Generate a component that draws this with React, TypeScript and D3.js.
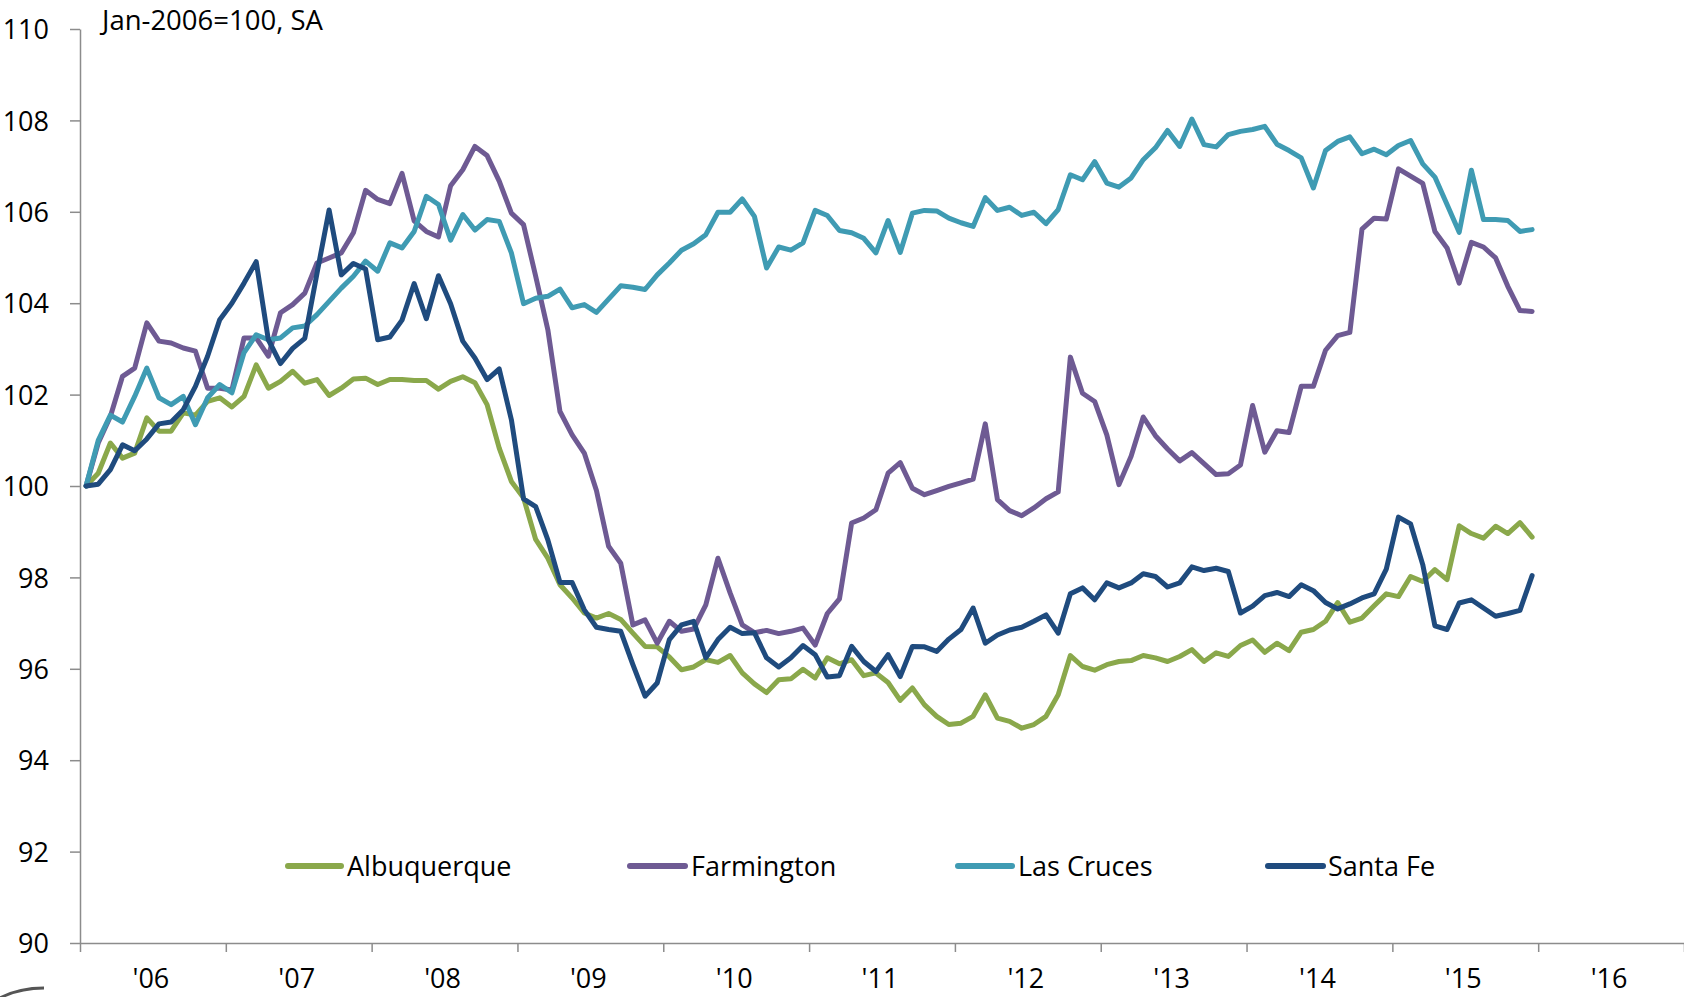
import React, { useRef, useEffect } from 'react';
import * as d3 from 'd3';

// monthly index, Jan-2006 = 100, seasonally adjusted (Jan 2006 .. Dec 2015)
const yearLabels = ["'06", "'07", "'08", "'09", "'10", "'11", "'12", "'13", "'14", "'15", "'16"];
const yTicks = [90, 92, 94, 96, 98, 100, 102, 104, 106, 108, 110];
const seriesNames = ['Albuquerque', 'Farmington', 'Las Cruces', 'Santa Fe'];

const albuquerque = [
  100.0, 100.28, 100.94, 100.61, 100.72, 101.49, 101.2, 101.2, 101.6, 101.55, 101.85, 101.93,
  101.73, 101.96, 102.65, 102.14, 102.29, 102.51, 102.25, 102.33, 101.98, 102.14, 102.34, 102.36,
  102.22, 102.33, 102.33, 102.31, 102.31, 102.12, 102.29, 102.39, 102.26, 101.78, 100.83, 100.1,
  99.74, 98.83, 98.42, 97.84, 97.55, 97.22, 97.11, 97.21, 97.08, 96.78, 96.49, 96.48,
  96.26, 95.98, 96.04, 96.2, 96.14, 96.29, 95.91, 95.67, 95.48, 95.76, 95.78, 95.99,
  95.8, 96.24, 96.11, 96.2, 95.85, 95.91, 95.7, 95.31, 95.58, 95.21, 94.96, 94.78,
  94.81, 94.96, 95.43, 94.92, 94.85, 94.7, 94.78, 94.96, 95.43, 96.29, 96.05, 95.97,
  96.09, 96.16, 96.18, 96.29, 96.24, 96.16, 96.27, 96.42, 96.16, 96.35, 96.27, 96.51,
  96.63, 96.36, 96.56, 96.4, 96.8, 96.86, 97.04, 97.45, 97.02, 97.11, 97.38, 97.64,
  97.58, 98.02, 97.91, 98.17, 97.95, 99.13, 98.96, 98.86, 99.12, 98.96, 99.2, 98.88
];

const farmington = [
  100.0, 100.94, 101.52, 102.4, 102.58, 103.57, 103.17, 103.13, 103.02, 102.95, 102.14, 102.14,
  102.1, 103.24, 103.24, 102.84, 103.79, 103.97, 104.22, 104.88, 104.99, 105.1, 105.54, 106.47,
  106.27, 106.18, 106.84, 105.8, 105.57, 105.45, 106.57, 106.92, 107.43, 107.23, 106.67, 105.97,
  105.72, 104.59, 103.42, 101.63, 101.12, 100.72, 99.9, 98.68, 98.31, 96.96, 97.07, 96.56,
  97.04, 96.82, 96.87, 97.4, 98.42, 97.66, 96.96, 96.79, 96.84, 96.77, 96.82, 96.89,
  96.52, 97.21, 97.53, 99.19, 99.3, 99.48, 100.28, 100.51, 99.95, 99.81, 99.9, 99.99,
  100.07, 100.15, 101.36, 99.7, 99.46, 99.35, 99.52, 99.72, 99.87, 102.82, 102.03, 101.85,
  101.12, 100.03, 100.65, 101.51, 101.1, 100.81, 100.55, 100.73, 100.49, 100.25, 100.27, 100.46,
  101.76, 100.74, 101.21, 101.17, 102.18, 102.18, 102.97, 103.29, 103.36, 105.62, 105.86, 105.84,
  106.94, 106.78, 106.62, 105.57, 105.21, 104.44, 105.33, 105.23, 104.99, 104.37, 103.84, 103.82
];

const lasCruces = [
  100.0, 101.0, 101.55, 101.4, 101.96, 102.58, 101.93, 101.78, 101.96, 101.34, 101.93, 102.22,
  102.04, 102.92, 103.31, 103.2, 103.24, 103.46, 103.5, 103.75, 104.04, 104.33, 104.59, 104.92,
  104.7, 105.32, 105.21, 105.57, 106.34, 106.16, 105.38, 105.94, 105.6, 105.83, 105.79, 105.1,
  103.99, 104.11, 104.15, 104.31, 103.9, 103.97, 103.8, 104.09, 104.38, 104.35, 104.3, 104.62,
  104.88, 105.16, 105.3, 105.5, 105.99, 105.99, 106.28, 105.9, 104.77, 105.23, 105.16, 105.32,
  106.03, 105.92, 105.59, 105.54, 105.42, 105.1, 105.81, 105.11, 105.97, 106.03, 106.02, 105.86,
  105.76, 105.68, 106.31, 106.03, 106.1, 105.92, 105.99, 105.74, 106.05, 106.81, 106.7, 107.1,
  106.63, 106.54, 106.74, 107.14, 107.4, 107.78, 107.43, 108.03, 107.47, 107.42, 107.69, 107.76,
  107.8, 107.87, 107.48, 107.34, 107.18, 106.52, 107.34, 107.54, 107.64, 107.27, 107.37, 107.25,
  107.45, 107.56, 107.05, 106.76, 106.16, 105.55, 106.91, 105.83, 105.83, 105.81, 105.57, 105.61
];

const santaFe = [
  100.0, 100.04, 100.36, 100.9, 100.77, 101.03, 101.36, 101.4, 101.67, 102.18, 102.84, 103.64,
  104.0, 104.44, 104.91, 103.2, 102.68, 103.01, 103.23, 104.65, 106.04, 104.62, 104.87, 104.75,
  103.2, 103.26, 103.63, 104.43, 103.66, 104.6, 103.99, 103.17, 102.8, 102.33, 102.56, 101.45,
  99.72, 99.55, 98.82, 97.89, 97.89, 97.29, 96.91, 96.86, 96.82, 96.09, 95.4, 95.69,
  96.64, 96.96, 97.04, 96.24, 96.64, 96.91, 96.77, 96.79, 96.24, 96.04, 96.24, 96.51,
  96.31, 95.82, 95.85, 96.49, 96.16, 95.94, 96.31, 95.83, 96.49, 96.48, 96.38, 96.65,
  96.86, 97.33, 96.56, 96.74, 96.85, 96.91, 97.04, 97.18, 96.78, 97.64, 97.77, 97.51,
  97.88, 97.77, 97.88, 98.08, 98.02, 97.79, 97.88, 98.23, 98.15, 98.2, 98.13, 97.22,
  97.37, 97.6, 97.67, 97.58, 97.84, 97.71, 97.45, 97.31, 97.42, 97.55, 97.64, 98.18,
  99.32, 99.17, 98.28, 96.94, 96.86, 97.44, 97.51, 97.33, 97.15, 97.21, 97.28, 98.04
];

const seriesValues = [albuquerque, farmington, lasCruces, santaFe];
const colors = ['#8aa84b', '#6e5a93', '#3f9bb3', '#1f4b7e'];

// legend layout: swatch start, swatch end, text start
const legendPos = [
  [288, 341, 347],
  [630, 685, 691],
  [958, 1012, 1018],
  [1268, 1323, 1328]
];

const App = () => {
  const svgRef = useRef(null);

  useEffect(() => {
    const width = 1684;
    const height = 997;
    const font = "'Open Sans', sans-serif";
    const svg = d3.select(svgRef.current).attr('width', width).attr('height', height);
    svg.selectAll('*').remove();

    const x = d3.scaleLinear().domain([0, 132]).range([80, 1684]);
    const y = d3.scaleLinear().domain([90, 110]).range([943, 29]);

    // y axis
    const yAxis = svg.append('g')
      .attr('transform', 'translate(80,0)')
      .call(d3.axisLeft(y).tickValues(yTicks).tickSize(10).tickSizeOuter(0).tickPadding(21).tickFormat(d3.format('d')));
    yAxis.selectAll('path, line').attr('stroke', '#8c8c8c').attr('stroke-width', 1.5);
    yAxis.selectAll('text')
      .attr('font-family', font).attr('font-size', 27).attr('fill', '#000').attr('dy', '0.36em');

    // x axis: year boundaries
    const xAxis = svg.append('g')
      .attr('transform', 'translate(0,943)')
      .call(d3.axisBottom(x).tickValues(d3.range(0, 133, 12)).tickSize(9).tickSizeOuter(0).tickFormat(() => ''));
    xAxis.selectAll('path, line').attr('stroke', '#8c8c8c').attr('stroke-width', 1.5);

    svg.append('g')
      .selectAll('text')
      .data(yearLabels)
      .enter()
      .append('text')
      .attr('x', (d, i) => x(i * 12 + 6) - 2)
      .attr('y', 978)
      .attr('dy', '0.36em')
      .attr('text-anchor', 'middle')
      .attr('font-family', font)
      .attr('font-size', 27)
      .text(d => d);

    // subtitle
    svg.append('text')
      .attr('x', 102)
      .attr('y', 30)
      .attr('font-family', font)
      .attr('font-size', 27.5)
      .text('Jan-2006=100, SA');

    // lines
    const line = d3.line<number>()
      .x((d, i) => x(i + 0.5))
      .y(d => y(d));

    svg.append('g')
      .selectAll('path')
      .data(seriesValues)
      .enter()
      .append('path')
      .attr('d', d => line(d))
      .attr('fill', 'none')
      .attr('stroke', (d, i) => colors[i])
      .attr('stroke-width', 5)
      .attr('stroke-linejoin', 'round')
      .attr('stroke-linecap', 'round');

    // legend
    const legend = svg.append('g')
      .selectAll('g')
      .data(seriesNames)
      .enter()
      .append('g');
    legend.append('line')
      .attr('x1', (d, i) => legendPos[i][0])
      .attr('x2', (d, i) => legendPos[i][1])
      .attr('y1', 866)
      .attr('y2', 866)
      .attr('stroke', (d, i) => colors[i])
      .attr('stroke-width', 6)
      .attr('stroke-linecap', 'round');
    legend.append('text')
      .attr('x', (d, i) => legendPos[i][2])
      .attr('y', 866)
      .attr('dy', '0.36em')
      .attr('font-family', font)
      .attr('font-size', 27)
      .text(d => d);

    // clipped logo edge at bottom-left corner
    svg.append('path')
      .attr('d', 'M-2,999 Q18,988 44,988')
      .attr('fill', 'none')
      .attr('stroke', '#555')
      .attr('stroke-width', 3);
  }, []);

  return (
    <div>
      <svg ref={svgRef} style={{ position: 'absolute', left: 0, top: 0, background: '#fff' }}></svg>
    </div>
  );
};

export default App;
